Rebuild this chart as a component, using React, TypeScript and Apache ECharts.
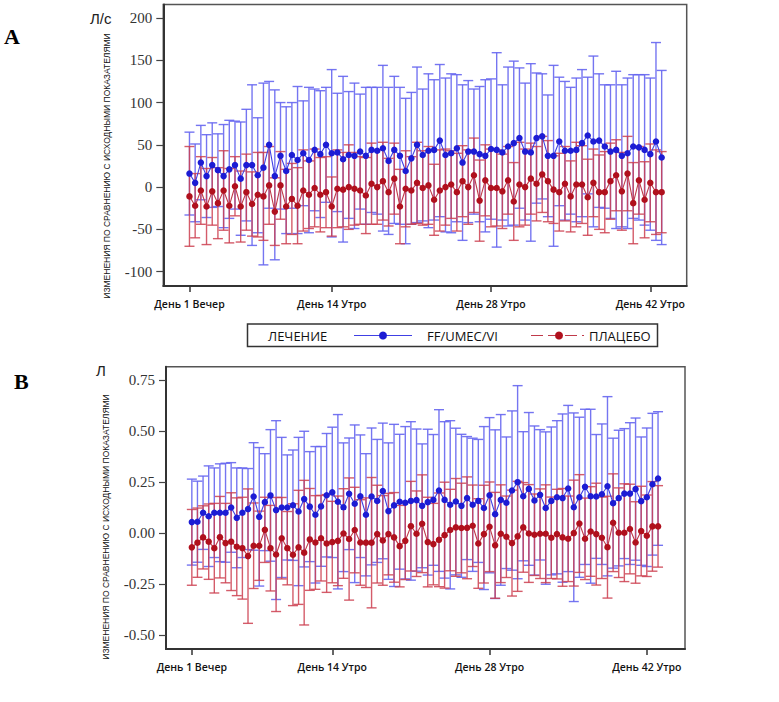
import { useEffect, useRef } from "react";
import * as echarts from "echarts";

// x positions are half-day timepoints: 0 = День 1 Вечер, 25 = День 14 Утро, ...
const tickIdx = [0, 25, 53, 81];
const tickLabels = ["День 1 Вечер", "День 14 Утро", "День 28 Утро", "День 42 Утро"];

// Panel A (Л/с)
const yTicksA = [-100, -50, 0, 50, 100, 150, 200];
const blueMeanA = [16, 5, 29, 13, 26, 20, 13, 21, 26, 10, 26, 26, 14, 23, 50, 13, 37, 19, 38, 32, 40, 32, 44, 39, 50, 40, 41, 33, 38, 37, 42, 37, 44, 43, 46, 31, 44, 37, 19, 34, 50, 38, 43, 44, 55, 38, 40, 46, 29, 42, 42, 39, 37, 45, 44, 41, 48, 52, 58, 42, 41, 58, 60, 37, 37, 54, 43, 43, 44, 52, 61, 54, 55, 48, 42, 44, 37, 40, 48, 47, 44, 39, 54, 35];
const blueUpperA = [65, 51, 73, 62, 76, 63, 74, 79, 78, 77, 92, 121, 82, 123, 125, 115, 100, 95, 100, 119, 102, 118, 116, 114, 118, 139, 111, 131, 113, 123, 110, 118, 118, 118, 144, 118, 131, 118, 105, 112, 142, 116, 134, 127, 145, 129, 134, 133, 121, 126, 116, 119, 127, 128, 159, 121, 142, 149, 141, 123, 146, 135, 134, 109, 144, 130, 125, 118, 129, 139, 130, 155, 134, 121, 121, 137, 121, 129, 133, 133, 133, 129, 171, 138];
const blueLowerA = [-33, -41, -15, -36, -24, -23, -48, -37, -26, -57, -40, -69, -54, -92, -25, -86, -26, -55, -25, -55, -22, -54, -28, -36, -18, -59, -29, -65, -37, -49, -26, -44, -30, -32, -52, -56, -43, -44, -67, -44, -42, -40, -48, -39, -35, -53, -54, -41, -63, -42, -32, -41, -53, -38, -71, -39, -46, -45, -25, -39, -64, -19, -14, -35, -70, -22, -39, -32, -41, -35, -8, -47, -24, -25, -37, -49, -47, -49, -37, -39, -45, -51, -63, -68];
const redMeanA = [-11, -22, -4, -23, -5, -19, -4, -22, 1, -23, -6, -20, -9, -11, 2, -29, 2, -23, -14, -22, -4, -9, -1, -9, -6, -23, -2, -3, 0, -2, -4, -10, 4, 0, 7, -6, 10, -23, -2, -4, 5, -1, 2, -15, -4, 0, 3, -6, 7, 0, 14, -16, 8, -1, -1, -5, 8, -17, 3, 0, 10, 4, 15, 7, -3, -6, 4, -11, 3, 3, -12, 5, -6, -6, 7, 14, -5, 16, -19, 8, -15, 5, -6, -6];
const redUpperA = [48, 16, 36, 22, 35, 23, 43, 22, 36, 19, 39, 18, 41, 41, 48, 11, 42, 21, 28, 23, 44, 31, 45, 35, 36, 12, 44, 41, 50, 41, 36, 35, 52, 44, 53, 34, 52, 21, 43, 36, 53, 43, 48, 27, 44, 45, 43, 40, 49, 44, 58, 32, 50, 45, 44, 39, 48, 29, 53, 45, 52, 48, 60, 55, 37, 40, 48, 31, 53, 49, 33, 45, 38, 42, 52, 56, 41, 60, 29, 48, 30, 51, 44, 42];
const redLowerA = [-70, -60, -44, -68, -45, -61, -51, -66, -34, -65, -51, -58, -59, -63, -44, -69, -38, -67, -56, -67, -52, -49, -47, -53, -48, -58, -48, -47, -50, -45, -44, -55, -44, -44, -39, -46, -32, -67, -47, -44, -43, -45, -44, -57, -52, -45, -37, -52, -35, -44, -30, -64, -34, -47, -46, -49, -32, -63, -47, -45, -32, -40, -30, -41, -43, -52, -40, -53, -47, -43, -57, -35, -50, -54, -38, -28, -51, -28, -67, -32, -60, -41, -56, -54];

// Panel B (Л)
const yTicksB = [-0.5, -0.25, 0, 0.25, 0.5, 0.75];
const blueMeanB = [0.054, 0.056, 0.1, 0.083, 0.1, 0.1, 0.1, 0.126, 0.075, 0.1, 0.118, 0.18, 0.08, 0.152, 0.185, 0.113, 0.126, 0.126, 0.137, 0.106, 0.167, 0.13, 0.09, 0.131, 0.186, 0.2, 0.154, 0.127, 0.193, 0.144, 0.181, 0.09, 0.18, 0.158, 0.207, 0.108, 0.136, 0.154, 0.149, 0.158, 0.162, 0.134, 0.152, 0.163, 0.209, 0.163, 0.139, 0.155, 0.134, 0.172, 0.139, 0.158, 0.123, 0.186, 0.093, 0.163, 0.149, 0.209, 0.25, 0.181, 0.217, 0.16, 0.188, 0.123, 0.158, 0.176, 0.172, 0.219, 0.127, 0.176, 0.227, 0.181, 0.18, 0.191, 0.23, 0.147, 0.172, 0.194, 0.194, 0.216, 0.157, 0.176, 0.24, 0.268];
const blueUpperB = [0.265, 0.255, 0.28, 0.33, 0.32, 0.34, 0.343, 0.346, 0.32, 0.32, 0.317, 0.444, 0.42, 0.39, 0.508, 0.552, 0.47, 0.384, 0.408, 0.47, 0.5, 0.4, 0.425, 0.425, 0.489, 0.52, 0.582, 0.443, 0.467, 0.531, 0.482, 0.39, 0.516, 0.46, 0.54, 0.443, 0.534, 0.485, 0.523, 0.547, 0.511, 0.438, 0.51, 0.484, 0.606, 0.547, 0.552, 0.515, 0.485, 0.474, 0.466, 0.46, 0.523, 0.567, 0.507, 0.582, 0.472, 0.6, 0.724, 0.498, 0.592, 0.526, 0.508, 0.497, 0.521, 0.552, 0.585, 0.627, 0.59, 0.569, 0.608, 0.608, 0.484, 0.536, 0.67, 0.466, 0.505, 0.513, 0.542, 0.565, 0.472, 0.516, 0.588, 0.596];
const blueLowerB = [-0.157, -0.143, -0.08, -0.164, -0.12, -0.14, -0.143, -0.094, -0.17, -0.12, -0.081, -0.084, -0.26, -0.086, -0.138, -0.326, -0.218, -0.132, -0.134, -0.258, -0.166, -0.14, -0.245, -0.163, -0.117, -0.12, -0.274, -0.189, -0.081, -0.243, -0.12, -0.21, -0.156, -0.144, -0.126, -0.227, -0.262, -0.177, -0.225, -0.231, -0.187, -0.17, -0.206, -0.158, -0.188, -0.221, -0.274, -0.205, -0.217, -0.13, -0.188, -0.144, -0.277, -0.195, -0.321, -0.256, -0.174, -0.182, -0.224, -0.136, -0.158, -0.206, -0.132, -0.251, -0.205, -0.2, -0.241, -0.189, -0.336, -0.217, -0.154, -0.246, -0.124, -0.154, -0.21, -0.172, -0.161, -0.125, -0.154, -0.133, -0.158, -0.164, -0.108, -0.06];
const redMeanB = [-0.07, -0.047, -0.021, -0.042, -0.074, -0.02, -0.049, -0.042, -0.067, -0.074, -0.113, -0.062, -0.062, 0.016, -0.074, -0.105, -0.025, -0.074, -0.106, -0.07, -0.096, -0.031, -0.046, -0.025, -0.051, -0.044, -0.038, -0.002, -0.029, 0.015, -0.046, -0.047, -0.047, -0.005, -0.036, -0.005, -0.021, -0.064, -0.038, 0.034, -0.003, 0.046, -0.044, -0.054, -0.033, -0.01, 0.015, 0.028, 0.025, 0.026, 0.036, -0.051, -0.005, 0.031, -0.06, -0.003, -0.018, -0.049, -0.016, 0.028, -0.002, -0.008, -0.003, -0.003, -0.023, -0.005, -0.021, -0.028, 0.0, 0.047, -0.028, 0.008, -0.005, -0.023, -0.069, 0.051, 0.002, 0.002, 0.02, -0.046, 0.01, -0.013, 0.033, 0.033];
const redUpperB = [0.116, 0.123, 0.134, 0.143, 0.146, 0.18, 0.146, 0.198, 0.173, 0.176, 0.217, 0.148, 0.108, 0.176, 0.136, 0.175, 0.175, 0.106, 0.144, 0.21, 0.259, 0.219, 0.184, 0.185, 0.189, 0.156, 0.182, 0.218, 0.271, 0.225, 0.164, 0.173, 0.273, 0.235, 0.184, 0.195, 0.199, 0.136, 0.152, 0.254, 0.207, 0.286, 0.176, 0.146, 0.197, 0.25, 0.215, 0.268, 0.245, 0.276, 0.236, 0.169, 0.235, 0.251, 0.2, 0.237, 0.182, 0.211, 0.254, 0.248, 0.238, 0.192, 0.217, 0.237, 0.177, 0.215, 0.219, 0.182, 0.26, 0.287, 0.172, 0.228, 0.245, 0.177, 0.181, 0.291, 0.222, 0.242, 0.24, 0.154, 0.23, 0.187, 0.253, 0.233];
const redLowerB = [-0.256, -0.217, -0.176, -0.227, -0.294, -0.22, -0.244, -0.282, -0.307, -0.324, -0.443, -0.272, -0.232, -0.144, -0.284, -0.385, -0.225, -0.254, -0.356, -0.35, -0.451, -0.281, -0.276, -0.235, -0.291, -0.244, -0.258, -0.222, -0.329, -0.195, -0.256, -0.267, -0.367, -0.245, -0.256, -0.205, -0.241, -0.264, -0.228, -0.186, -0.213, -0.194, -0.264, -0.254, -0.263, -0.27, -0.185, -0.212, -0.195, -0.224, -0.164, -0.271, -0.245, -0.189, -0.32, -0.243, -0.218, -0.309, -0.286, -0.192, -0.242, -0.208, -0.223, -0.243, -0.223, -0.225, -0.261, -0.238, -0.26, -0.193, -0.228, -0.212, -0.255, -0.223, -0.319, -0.189, -0.218, -0.238, -0.2, -0.246, -0.21, -0.213, -0.187, -0.167];

const BLUE_BAR = "#6666f0";
const RED_BAR = "#cc3f50";
const BLUE_LINE = "#4040e4";
const RED_LINE = "#c03a4a";
const BLUE_DOT = "#1c1cd4";
const RED_DOT = "#b0101d";

const yName = "ИЗМЕНЕНИЯ ПО СРАВНЕНИЮ С ИСХОДНЫМИ ПОКАЗАТЕЛЯМИ";

function errorBars(color: string, lower: number[], upper: number[], axis: number, opacity: number) {
  return {
    type: "custom",
    xAxisIndex: axis,
    yAxisIndex: axis,
    silent: true,
    encode: { x: 0, y: [1, 2] },
    data: lower.map((lo, i) => [i, lo, upper[i]]),
    renderItem: (_params: any, api: any) => {
      const x = api.value(0);
      const top = api.coord([x, api.value(2)]);
      const bot = api.coord([x, api.value(1)]);
      const w = 5;
      const style = { stroke: color, lineWidth: 1.4, opacity };
      return {
        type: "group",
        children: [
          { type: "line", shape: { x1: top[0], y1: top[1], x2: bot[0], y2: bot[1] }, style },
          { type: "line", shape: { x1: top[0] - w, y1: top[1], x2: top[0] + w, y2: top[1] }, style },
          { type: "line", shape: { x1: bot[0] - w, y1: bot[1], x2: bot[0] + w, y2: bot[1] }, style },
        ],
      };
    },
  };
}

function meanLine(name: string, values: number[], axis: number, line: string, dot: string) {
  return {
    type: "line",
    name,
    xAxisIndex: axis,
    yAxisIndex: axis,
    data: values.map((v, i) => [i, v]),
    symbol: "circle",
    symbolSize: 6.5,
    lineStyle: { color: line, width: 1.1 },
    itemStyle: { color: dot },
  };
}

function xAxis(grid: number, max: number) {
  return {
    type: "value",
    gridIndex: grid,
    min: -4.6,
    max,
    splitLine: { show: false },
    axisLine: { show: true, onZero: false, lineStyle: { color: "#333", width: 2 } },
    axisTick: { show: true, customValues: tickIdx, length: 6, lineStyle: { color: "#333", width: 1.5 } },
    axisLabel: {
      customValues: tickIdx,
      formatter: (v: number) => tickLabels[tickIdx.indexOf(Math.round(v))] ?? "",
      margin: 12,
      fontFamily: "Open Sans",
      fontSize: 10.5,
      fontWeight: 600,
      color: "#111",
    },
  };
}

function yAxis(grid: number, min: number, max: number, ticks: number[], fmt: (v: number) => string) {
  return {
    type: "value",
    gridIndex: grid,
    min,
    max,
    splitLine: { show: false },
    axisLine: { show: true, onZero: false, lineStyle: { color: "#333", width: 2 } },
    axisTick: { show: true, customValues: ticks, length: 7, lineStyle: { color: "#444", width: 1.2 } },
    axisLabel: {
      customValues: ticks,
      formatter: fmt,
      margin: 11,
      fontFamily: "Liberation Serif",
      fontSize: 15,
      color: "#333",
    },
  };
}

export default function App() {
  const ref = useRef<HTMLDivElement>(null);

  useEffect(() => {
    document.body.style.margin = "0";
    if (!ref.current) return;
    const chart = echarts.init(ref.current, null, { renderer: "svg" });

    chart.setOption({
      animation: false,
      backgroundColor: "#fff",
      grid: [
        { left: 163.3, top: 4.5, width: 523.4, height: 281.5, show: true, borderColor: "#555", borderWidth: 1.5 },
        { left: 166, top: 366.7, width: 519, height: 282.3, show: true, borderColor: "#555", borderWidth: 1.5 },
      ],
      xAxis: [xAxis(0, 87.4), xAxis(1, 87.8)],
      yAxis: [
        yAxis(0, -117, 216, yTicksA, (v) => String(v)),
        yAxis(1, -0.569, 0.817, yTicksB, (v) => v.toFixed(2)),
      ],
      series: [
        errorBars(BLUE_BAR, blueLowerA, blueUpperA, 0, 0.9),
        errorBars(RED_BAR, redLowerA, redUpperA, 0, 0.85),
        meanLine("FF/UMEC/VI", blueMeanA, 0, BLUE_LINE, BLUE_DOT),
        meanLine("ПЛАЦЕБО", redMeanA, 0, RED_LINE, RED_DOT),
        errorBars(BLUE_BAR, blueLowerB, blueUpperB, 1, 0.9),
        errorBars(RED_BAR, redLowerB, redUpperB, 1, 0.85),
        meanLine("FF/UMEC/VI", blueMeanB, 1, BLUE_LINE, BLUE_DOT),
        meanLine("ПЛАЦЕБО", redMeanB, 1, RED_LINE, RED_DOT),
      ],
      graphic: [
        { type: "text", x: 4, y: 36, style: { text: "A", font: "bold 22px 'Liberation Serif'", fill: "#000", verticalAlign: "middle" } },
        { type: "text", x: 14, y: 381, style: { text: "B", font: "bold 22px 'Liberation Serif'", fill: "#000", verticalAlign: "middle" } },
        { type: "text", x: 90, y: 18, style: { text: "Л/с", font: "15px 'Liberation Sans'", fill: "#222", verticalAlign: "middle" } },
        { type: "text", x: 96, y: 370, style: { text: "Л", font: "15px 'Liberation Sans'", fill: "#222", verticalAlign: "middle" } },
        { type: "text", x: 107, y: 166, rotation: Math.PI / 2, style: { text: yName, font: "8.5px 'Liberation Sans'", fill: "#111", align: "center", verticalAlign: "middle" } },
        { type: "text", x: 106, y: 527, rotation: Math.PI / 2, style: { text: yName, font: "8.5px 'Liberation Sans'", fill: "#111", align: "center", verticalAlign: "middle" } },
        // legend box
        { type: "rect", shape: { x: 247.5, y: 324, width: 410, height: 22.5 }, style: { fill: "#fff", stroke: "#333", lineWidth: 1.5 } },
        { type: "text", x: 268, y: 335.5, style: { text: "ЛЕЧЕНИЕ", font: "13px 'Open Sans'", fill: "#111", verticalAlign: "middle" } },
        { type: "line", shape: { x1: 354, y1: 335.5, x2: 412, y2: 335.5 }, style: { stroke: BLUE_LINE, lineWidth: 1.2 } },
        { type: "circle", shape: { cx: 383, cy: 335.5, r: 4 }, style: { fill: BLUE_DOT } },
        { type: "text", x: 427, y: 335.5, style: { text: "FF/UMEC/VI", font: "13px 'Open Sans'", fill: "#111", verticalAlign: "middle" } },
        { type: "line", shape: { x1: 531, y1: 335.5, x2: 584, y2: 335.5 }, style: { stroke: RED_LINE, lineWidth: 1.2, lineDash: [12, 5] } },
        { type: "circle", shape: { cx: 559, cy: 335.5, r: 4 }, style: { fill: RED_DOT } },
        { type: "text", x: 589, y: 335.5, style: { text: "ПЛАЦЕБО", font: "13px 'Open Sans'", fill: "#111", verticalAlign: "middle" } },
      ],
    });

    return () => {
      chart.dispose();
    };
  }, []);

  return <div ref={ref} style={{ width: 779, height: 702 }} />;
}
